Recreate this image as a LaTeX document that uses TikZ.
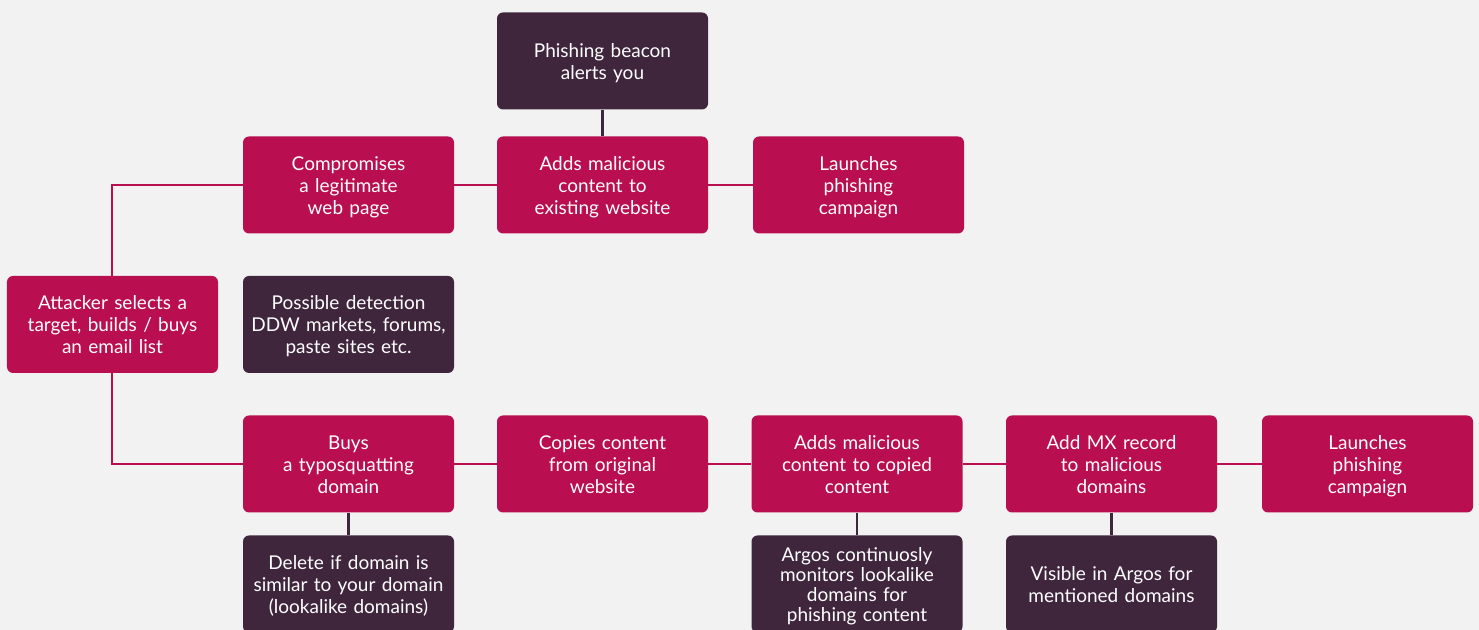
\documentclass[tikz,border=0pt]{standalone}
\usepackage{fontspec}
\setmainfont{Lato}
\usetikzlibrary{positioning}

\definecolor{attack}{HTML}{B90E4F}
\definecolor{detect}{HTML}{40263D}
\definecolor{canvas}{HTML}{F2F2F2}

\begin{document}
\begin{tikzpicture}[on grid, node distance=127pt,
    box/.style={rectangle, rounded corners=3pt, minimum width=105.5pt, minimum height=48.5pt,
      text width=104pt, align=center, inner sep=0pt, text=white,
      font=\fontsize{9.5}{11}\selectfont,
      execute at begin node={\rule{0pt}{10.5pt}},
      execute at end node={\rule[-3.3pt]{0pt}{3.3pt}}},
    attackbox/.style={box, fill=attack},
    alertbox/.style={box, fill=detect},
    link/.style={line width=1pt, draw=attack},
    alert/.style={line width=1.2pt, draw=detect}]
  \fill[canvas] (-56.25pt,-152.75pt) rectangle (683.25pt,162.25pt);
  \useasboundingbox (-56.25pt,-152.75pt) rectangle (683.25pt,162.25pt);

  \node[attackbox] (select) {Attacker selects a\\ target, builds / buys\\ an email list};
  \node[alertbox] (market) [right=118pt of select] {Possible detection\\ DDW markets, forums,\\ paste sites etc.};
  \node[attackbox] (compromise) [above=69.75pt of market] {Compromises\\ a legitimate\\ web page};
  \node[attackbox] (inject) [right=of compromise] {Adds malicious\\ content to\\ existing website};
  \node[alertbox] (beacon) [above=62pt of inject] {Phishing beacon\\ alerts you};
  \node[attackbox] (launch1) [right=128pt of inject] {Launches\\ phishing\\ campaign};
  \node[attackbox] (typo) [below=69.75pt of market] {Buys\\ a typosquatting\\ domain};
  \node[attackbox] (copy) [right=of typo] {Copies content\\ from original\\ website};
  \node[attackbox] (inject2) [right=127.25pt of copy] {Adds malicious\\ content to copied\\ content};
  \node[attackbox] (mx) [right=127.25pt of inject2] {Add MX record\\ to malicious\\ domains};
  \node[attackbox] (launch2) [right=128pt of mx] {Launches\\ phishing\\ campaign};
  \node[alertbox] (takedown) [below=60pt of typo] {Delete if domain is\\ similar to your domain\\ (lookalike domains)};
  \node[alertbox, font=\fontsize{9.5}{10}\selectfont] (monitor) [below=60pt of inject2] {Argos continuosly\\ monitors lookalike\\ domains for\\ phishing content};
  \node[alertbox] (visible) [below=60pt of mx] {Visible in Argos for\\ mentioned domains};

  \draw[link] (select.north) |- (compromise.west);
  \draw[link] (select.south) |- (typo.west);
  \path[link]
  (compromise) edge (inject)
    (inject) edge (launch1)
  (typo) edge (copy)
    (copy) edge (inject2)
    (inject2) edge (mx)
    (mx) edge (launch2);
  \path[alert]
  (beacon) edge (inject)
    (typo) edge (takedown)
    (inject2) edge (monitor)
    (mx) edge (visible);
\end{tikzpicture}
\end{document}
